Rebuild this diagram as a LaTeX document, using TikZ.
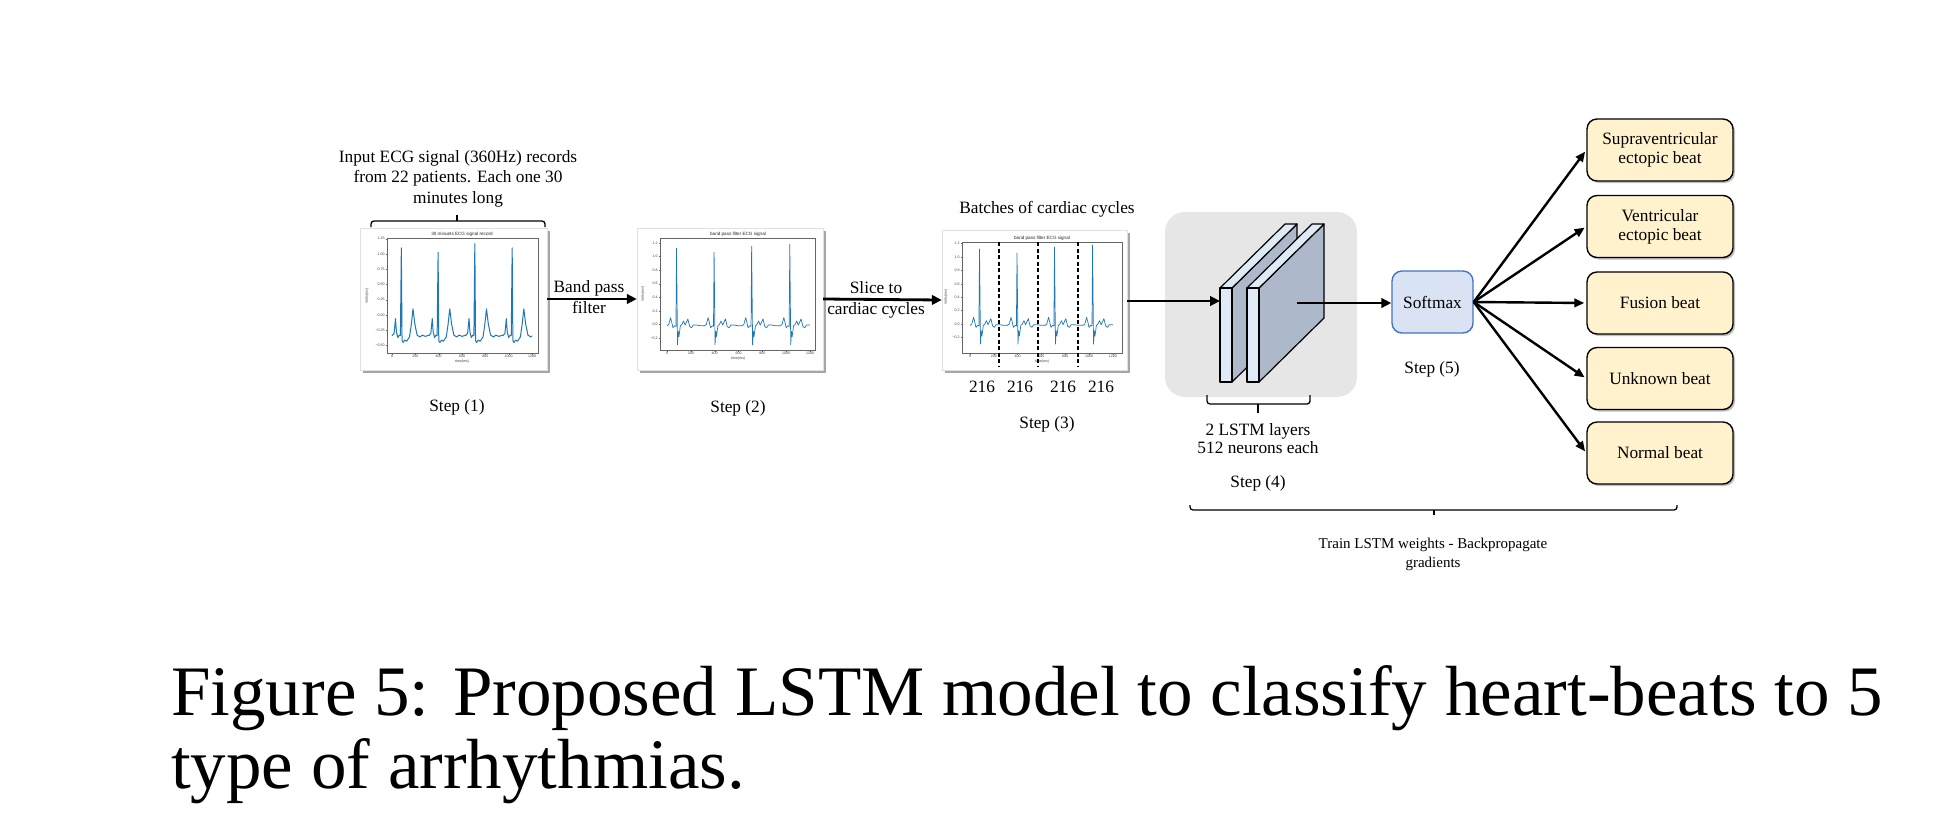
\documentclass[tikz,border=0pt]{standalone}
\usepackage{fontspec}
\setmainfont{Liberation Serif}
\newfontfamily\plotfont{Liberation Sans}
\usetikzlibrary{arrows.meta,shadows}
\definecolor{sigblue}{HTML}{1F77B4}
\definecolor{lstmgray}{HTML}{E7E6E6}
\definecolor{faceblue}{HTML}{DEEBF7}
\definecolor{sideblue}{HTML}{ADB9CA}
\definecolor{smfill}{HTML}{DAE3F3}
\definecolor{smdraw}{HTML}{4472C4}
\definecolor{outfill}{HTML}{FFF2CC}
\begin{document}
\begin{tikzpicture}[x=1pt,y=-1pt,
  lbl/.style={inner sep=0pt, align=center, font=\fontsize{17.3}{20.5}\selectfont},
  flow/.style={-{Triangle[length=10pt,width=9.5pt]}, line width=2.8pt},
  outarrow/.style={-{Triangle[length=10pt,width=8.5pt]}, line width=2.4pt},
  plotframe/.style={rectangle, fill=white, draw=black!12, line width=0.4pt, inner sep=0pt,
    drop shadow={shadow xshift=3pt, shadow yshift=-3pt, opacity=0.35, fill=black}},
  axbox/.style={draw=black!60, line width=0.4pt},
  sig/.style={draw=sigblue, line width=0.7pt, line join=round},
  tick/.style={font=\plotfont\fontsize{3.6}{4}\selectfont, text=black!75, inner sep=0.6pt},
  ptitle/.style={font=\plotfont\fontsize{4.6}{5}\selectfont, text=black!85, inner sep=0pt},
  outbox/.style={rectangle, rounded corners=10pt, draw=black, line width=1.4pt, fill=outfill,
    minimum width=146pt, minimum height=62pt, align=center, inner sep=0pt,
    font=\fontsize{17.3}{19}\selectfont,
    drop shadow={shadow xshift=2pt, shadow yshift=-2pt, opacity=0.25, fill=black}},
  smbox/.style={rectangle, rounded corners=10pt, draw=smdraw, line width=1.4pt, fill=smfill,
    minimum width=81pt, minimum height=62pt, inner sep=0pt, font=\fontsize{17.3}{19}\selectfont},
  bracket/.style={line width=1.3pt, rounded corners=3pt},
  layerline/.style={draw=black, line width=1.2pt, line join=round}
]
\useasboundingbox (0,0) rectangle (1942,828);

% ---------------- Plot 1 ----------------
\node[plotframe, minimum width=187pt, minimum height=142pt] (p1) at (453.5,299) {};
\draw[axbox] (387,238) rectangle (538,353);
\node[ptitle] (t1) at (462,234.5) {30 minuets ECG signal record};
\foreach \v/\t in {1.25/1.25,1.00/1.00,0.75/0.75,0.50/0.50,0.25/0.25,0.00/0.00,-0.25/−0.25,-0.50/−0.50}
  {\draw[black!60, line width=0.3pt] (387,{315-61*\v}) -- (385.5,{315-61*\v});
   \node[tick, anchor=east] at (385.5,{315-61*\v}) {\t};}
\foreach \d in {0,200,400,600,800,1000,1200}
  {\draw[black!60, line width=0.3pt] ({392+0.11667*\d},353) -- ({392+0.11667*\d},354.5);
   \node[tick, anchor=north] at ({392+0.11667*\d},354.5) {\d};}
\node[tick] (x1) at (462,361.5) {time(ms)};
\node[tick, rotate=90] (y1) at (367,296) {Volts(mv)};
\begin{scope}[shift={(392,315)}, x=0.11667pt, y=61pt]
  \clip (-5,-1) rectangle (1200,2);
  \foreach \r/\h in {80/1.10,395/1.03,710/1.17,1030/1.10}
    {\draw[sig, line width=1pt, shift={(\r,0)}] (-80,-0.34) -- (-62,-0.30) -- (-50,-0.06) -- (-42,-0.28) -- (-30,-0.37) -- (-18,-0.33) -- (-8,-0.34) -- (0,\h) -- (6,-0.42) -- (15,-0.45) -- (30,-0.41) -- (45,-0.43) -- (70,-0.36) -- (85,-0.16) -- (100,0.10) -- (115,-0.14) -- (135,-0.33) -- (160,-0.36) -- (180,-0.33) -- (205,-0.35) -- (240,-0.33);}
\end{scope}

% ---------------- Plot 2 ----------------
\node[plotframe, minimum width=186pt, minimum height=142pt] (p2) at (730,299) {};
\draw[axbox] (660,238) rectangle (815,350);
\node[ptitle] (t2) at (738,234.5) {band pass filter ECG signal};
\foreach \v/\t in {1.2/1.2,1.0/1.0,0.8/0.8,0.6/0.6,0.4/0.4,0.2/0.2,0.0/0.0,-0.2/−0.2}
  {\draw[black!60, line width=0.3pt] (660,{324.4-67.9*\v}) -- (658.5,{324.4-67.9*\v});
   \node[tick, anchor=east] at (658.5,{324.4-67.9*\v}) {\t};}
\foreach \d in {0,200,400,600,800,1000,1200}
  {\draw[black!60, line width=0.3pt] ({667+0.1192*\d},350) -- ({667+0.1192*\d},351.5);
   \node[tick, anchor=north] at ({667+0.1192*\d},351.5) {\d};}
\node[tick] (x2) at (738,359) {time(ms)};
\node[tick, rotate=90] (y2) at (643,294) {Volts(mv)};
\begin{scope}[shift={(667,324.4)}, x=0.1192pt, y=67.9pt]
  \clip (-5,-1) rectangle (1200,2);
  \foreach \r/\h in {80/1.12,395/1.06,710/1.15,1030/1.18}
    {\draw[sig, shift={(\r,0)}] (-80,-0.02) -- (-65,0.0) -- (-50,0.10) -- (-40,0.03) -- (-30,-0.05) -- (-15,-0.02) -- (-5,-0.03) -- (0,\h) -- (8,-0.30) -- (14,-0.10) -- (20,-0.18) -- (32,-0.02) -- (45,0.0) -- (58,0.05) -- (72,-0.01) -- (95,0.08) -- (110,-0.03) -- (125,-0.05) -- (140,-0.01) -- (170,-0.01) -- (200,-0.02) -- (240,-0.02);}
\end{scope}

% ---------------- Plot 3 ----------------
\node[plotframe, minimum width=185pt, minimum height=140pt] (p3) at (1034.5,300) {};
\draw[axbox] (962,242) rectangle (1122,353);
\node[ptitle] (t3) at (1042,238) {band pass filter ECG signal};
\foreach \v/\t in {1.2/1.2,1.0/1.0,0.8/0.8,0.6/0.6,0.4/0.4,0.2/0.2,0.0/0.0,-0.2/−0.2}
  {\draw[black!60, line width=0.3pt] (962,{324-67*\v}) -- (960.5,{324-67*\v});
   \node[tick, anchor=east] at (960.5,{324-67*\v}) {\t};}
\foreach \d in {0,200,400,600,800,1000,1200}
  {\draw[black!60, line width=0.3pt] ({970+0.119*\d},353) -- ({970+0.119*\d},354.5);
   \node[tick, anchor=north] at ({970+0.119*\d},354.5) {\d};}
\node[tick] (x3) at (1042,362) {time(ms)};
\node[tick, rotate=90] (y3) at (946,297) {Volts(ms)};
\begin{scope}[shift={(970,324)}, x=0.119pt, y=67pt]
  \clip (-5,-1) rectangle (1200,2);
  \foreach \r/\h in {80/1.12,395/1.06,710/1.15,1030/1.18}
    {\draw[sig, shift={(\r,0)}] (-80,-0.02) -- (-65,0.0) -- (-50,0.10) -- (-40,0.03) -- (-30,-0.05) -- (-15,-0.02) -- (-5,-0.03) -- (0,\h) -- (8,-0.30) -- (14,-0.10) -- (20,-0.18) -- (32,-0.02) -- (45,0.0) -- (58,0.05) -- (72,-0.01) -- (95,0.08) -- (110,-0.03) -- (125,-0.05) -- (140,-0.01) -- (170,-0.01) -- (200,-0.02) -- (240,-0.02);}
\end{scope}
\foreach \xx in {999,1038,1078}
  \draw[black, line width=1.4pt, dash pattern=on 4pt off 2.5pt] (\xx,242) -- (\xx,366);

% ---------------- LSTM ----------------
\fill[lstmgray, rounded corners=20pt] (1165,212) rectangle (1357,397);
\foreach \X in {1220,1247}
  {\filldraw[layerline, fill=sideblue] (\X+12,288) -- (\X+77,224) -- (\X+77,318) -- (\X+12,382) -- cycle;
   \filldraw[layerline, fill=faceblue] (\X,288) -- (\X+65,224) -- (\X+77,224) -- (\X+12,288) -- cycle;
   \filldraw[layerline, fill=faceblue] (\X,288) rectangle (\X+12,382);}
\coordinate (l1in) at (1220,301);
\coordinate (l2out) at (1297,303);

% ---------------- Softmax and outputs ----------------
\node[smbox] (sm) at (1432.5,302) {Softmax};
\node[outbox] (o1) at (1660,150) {Supraventricular\\ectopic beat};
\node[outbox] (o2) at (1660,226.5) {Ventricular\\ectopic beat};
\node[outbox] (o3) at (1660,303) {Fusion beat};
\node[outbox] (o4) at (1660,378.5) {Unknown beat};
\node[outbox] (o5) at (1660,453) {Normal beat};

% ---------------- Connectors ----------------
\draw[flow] (p1.east) -- (p2.west);
\draw[flow] (p2.east) -- (p3.west);
\draw[flow] (p3.east |- l1in) -- (l1in);
\draw[flow] (l2out) -- (sm.west |- l2out);
\foreach \o in {o1,o2,o3,o4,o5}
  \draw[outarrow, shorten >=2pt] (sm.east) -- (\o.west);

% ---------------- Brackets ----------------
\draw[bracket] (371,227) -- (371,221) -- (545,221) -- (545,227);
\draw[line width=1.3pt] (457,221) -- (457,215);
\draw[bracket] (1207,395) -- (1207,404) -- (1310,404) -- (1310,395);
\draw[line width=1.3pt] (1258,404) -- (1258,413);
\draw[bracket] (1190,505) -- (1190,510) -- (1677,510) -- (1677,505);
\draw[line width=1.3pt] (1434,510) -- (1434,515);

% ---------------- Labels (base = baseline of last line) ----------------
\node[lbl, anchor=base] (intext) at (458,203) {Input ECG signal (360Hz) records\\from 22 patients. Each one 30\\minutes long};
\node[lbl, anchor=base] (s1) at (457,411) {Step (1)};
\node[lbl, anchor=base] (bp) at (589,313) {Band pass\\filter};
\node[lbl, anchor=base] (sl) at (876,314) {Slice to\\cardiac cycles};
\node[lbl, anchor=base] (s2) at (738,412) {Step (2)};
\node[lbl, anchor=base] (bt) at (1047,213) {Batches of cardiac cycles};
\node[lbl, anchor=base] (n1) at (982,392) {216};
\node[lbl, anchor=base] (n2) at (1020,392) {216};
\node[lbl, anchor=base] (n3) at (1063,392) {216};
\node[lbl, anchor=base] (n4) at (1101,392) {216};
\node[lbl, anchor=base] (s3) at (1047,428) {Step (3)};
\node[lbl, anchor=base, font=\fontsize{17.3}{18}\selectfont] (lt) at (1258,453) {2 LSTM layers\\512 neurons each};
\node[lbl, anchor=base] (s4) at (1258,487) {Step (4)};
\node[lbl, anchor=base] (s5) at (1432,373) {Step (5)};
\node[lbl, anchor=base, font=\fontsize{15}{19}\selectfont] (tr) at (1433,567) {Train LSTM weights - Backpropagate\\gradients};

% ---------------- Caption ----------------
\node[inner sep=0pt, anchor=base west, font=\fontsize{71}{73}\selectfont] (cap1) at (171,715) {Figure 5: Proposed LSTM model to classify heart-beats to 5};
\node[inner sep=0pt, anchor=base west, font=\fontsize{71}{73}\selectfont] (cap2) at (171,788) {type of arrhythmias.};
\end{tikzpicture}
\end{document}
